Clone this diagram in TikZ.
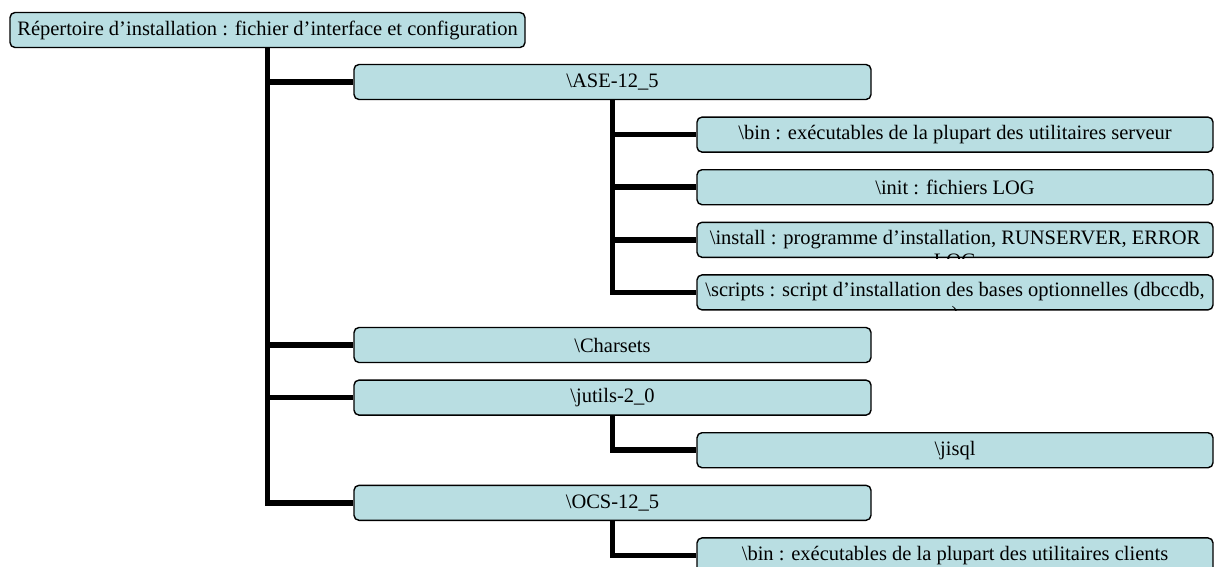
\documentclass[tikz,border=0pt]{standalone}
\usepackage{fontspec}
\setmainfont{Liberation Serif}
\usetikzlibrary{positioning}

\tikzset{
  dirbox/.style={draw, line width=1.4pt, rounded corners=5pt,
    fill={rgb,255:red,185;green,222;blue,226}, minimum height=35pt,
    inner sep=0pt, font=\fontsize{20.5}{23.6}\selectfont},
  rootbox/.style={dirbox, minimum width=515pt},
  mainbox/.style={dirbox, minimum width=517pt},
  subbox/.style={dirbox, minimum width=516pt},
  boxtext/.style={inner sep=0pt, align=center, font=\fontsize{20.5}{23.6}\selectfont},
  branch/.style={line width=5.5pt}
}

\begin{document}
\begin{tikzpicture}[x=1pt,y=1pt,yscale=-1,xscale=1]
%set diagram left start at 0, and has height of 566
\clip (0,0) rectangle (1214,566);

%Shape: root
\node[rootbox] (root) at (267.5,30) {Répertoire d’installation : fichier d’interface et configuration};

%Shape: first level
\node[mainbox] (ase) at (612.5,82) {\textbackslash ASE-12\_5};
\node[mainbox] (charsets) at (612.5,345) {\textbackslash Charsets};
\node[mainbox] (jutils) at (612.5,397.6) {\textbackslash jutils-2\_0};
\node[mainbox] (ocs) at (612.5,502.8) {\textbackslash OCS-12\_5};

%Shape: second level
\node[subbox] (asebin) at (955,134.6) {\textbackslash bin : exécutables de la plupart des utilitaires serveur};
\node[subbox] (aseinit) at (955,187.2) {\textbackslash init : fichiers LOG};
\node[subbox] (aseinstall) at (955,239.8) {};
\node[subbox] (asescripts) at (955,292.4) {};
\node[subbox] (jisql) at (955,450.2) {\textbackslash jisql};
\node[subbox] (ocsbin) at (955,555.4) {\textbackslash bin : exécutables de la plupart des utilitaires clients};

% Text Node (runs out of its box)
\begin{scope}
\clip[rounded corners=5pt] (aseinstall.south west) rectangle (aseinstall.north east);
\node[boxtext, anchor=north] (aseinstalltext) at (955,229.8) {\textbackslash install : programme d’installation, RUNSERVER, ERROR\\LOG};
\end{scope}
% Text Node (runs out of its box)
\begin{scope}
\clip[rounded corners=5pt] (asescripts.south west) rectangle (asescripts.north east);
\node[boxtext, anchor=north] (asescriptstext) at (955,282.4) {\textbackslash scripts : script d’installation des bases optionnelles (dbccdb,\\)};
\end{scope}

%Lines: tree
\draw[branch] (root.south) |- (ase.west);
\draw[branch] (root.south) |- (charsets.west);
\draw[branch] (root.south) |- (jutils.west);
\draw[branch] (root.south) |- (ocs.west);
\draw[branch] (ase.south) |- (asebin.west);
\draw[branch] (ase.south) |- (aseinit.west);
\draw[branch] (ase.south) |- (aseinstall.west);
\draw[branch] (ase.south) |- (asescripts.west);
\draw[branch] (jutils.south) |- (jisql.west);
\draw[branch] (ocs.south) |- (ocsbin.west);

\end{tikzpicture}
\end{document}
